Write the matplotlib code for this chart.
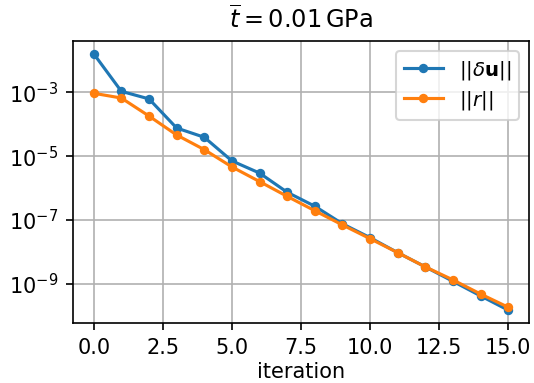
import matplotlib
matplotlib.use("Agg")
import matplotlib.pyplot as plt
from matplotlib.ticker import NullLocator

iterations = list(range(16))
du_norm = [1.6e-2, 1.07e-3, 6.2e-4, 7.6e-5, 3.9e-5, 7.1e-6, 2.95e-6, 7.4e-7,
           2.7e-7, 7.6e-8, 2.8e-8, 9.5e-9, 3.4e-9, 1.2e-9, 4.2e-10, 1.5e-10]
r_norm = [9.3e-4, 6.6e-4, 1.8e-4, 4.6e-5, 1.6e-5, 4.6e-6, 1.6e-6, 5.5e-7,
          1.95e-7, 7.0e-8, 2.6e-8, 9.5e-9, 3.4e-9, 1.33e-9, 4.8e-10, 1.85e-10]
x_ticks = [0, 2.5, 5, 7.5, 10, 12.5, 15]
x_tick_labels = ['0.0', '2.5', '5.0', '7.5', '10.0', '12.5', '15.0']
y_ticks = [1e-3, 1e-5, 1e-7, 1e-9]

dpi = 150
fig = plt.figure(figsize=(534 / dpi, 383 / dpi), dpi=dpi)
ax = fig.add_axes([73 / 534, 1 - 323 / 383, (529 - 73) / 534, (323 - 41) / 383])

ax.plot(iterations, du_norm, marker='o', markersize=3.5, lw=1.5, color='#1f77b4',
        label=r'$||\delta\mathbf{u}||$')
ax.plot(iterations, r_norm, marker='o', markersize=3.5, lw=1.5, color='#ff7f0e',
        label=r'$||r||$')
ax.set_yscale('log')
ax.set_yticks(y_ticks)
ax.yaxis.set_minor_locator(NullLocator())
ax.set_xticks(x_ticks)
ax.set_xticklabels(x_tick_labels)
ax.grid(True)
ax.set_xlabel('iteration', labelpad=2)
ax.set_title(r'$\overline{t} = 0.01\,\mathrm{GPa}$', fontsize=11.5)
ax.legend(loc='upper right', fontsize=9.5, labelspacing=0.35)

fig.savefig('out.png', dpi=dpi)
